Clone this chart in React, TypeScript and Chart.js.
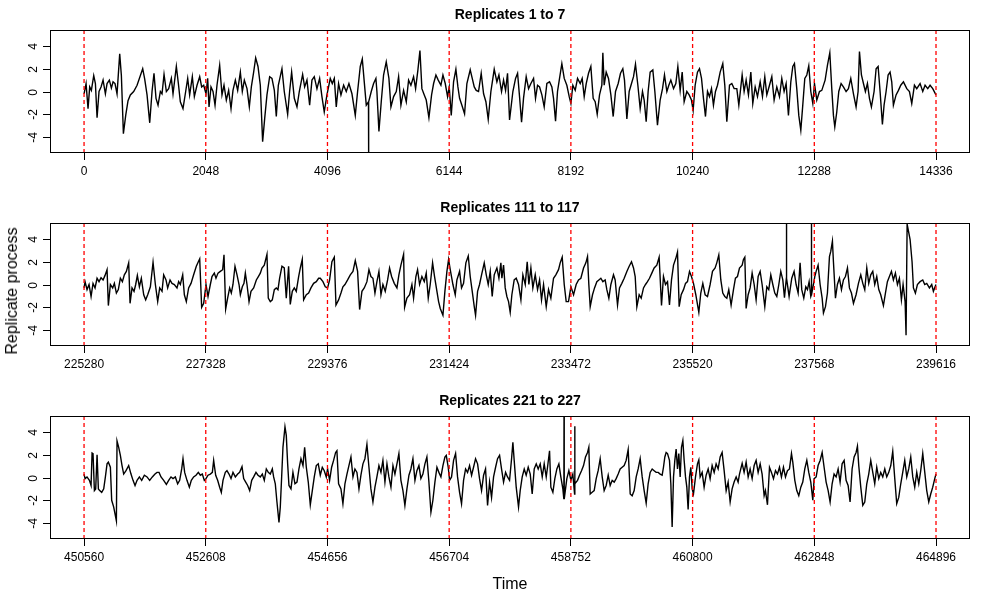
import React, { useEffect, useRef } from "react";
import { Chart, registerables } from "chart.js";

Chart.register(...registerables);

const FONT = '"Liberation Sans", Arial, Helvetica, sans-serif';

// ---- chart values ----
const panelTitles = ["Replicates 1 to 7", "Replicates 111 to 117", "Replicates 221 to 227"];
const panelStarts = [0, 225280, 450560];
const seriesLength = 14336;
const xExpand = 573;
const xTicks1 = [0, 2048, 4096, 6144, 8192, 10240, 12288, 14336];
const xTicks2 = [225280, 227328, 229376, 231424, 233472, 235520, 237568, 239616];
const xTicks3 = [450560, 452608, 454656, 456704, 458752, 460800, 462848, 464896];
const yTicks = [-4, -2, 0, 2, 4];
const yRange = [-5.4, 5.4];

// [time offset within panel, replicate process value]
const replicates1to7: [number, number][] = [
  [0,-0.2],[34,0.7],[67,-1.5],[95,0.4],[123,0.1],[163,1.4],[191,0.7],[219,-2.3],[252,0],[286,0.4],[320,1.0],[359,-0.2],[387,0.7],[426,1.0],[460,0.3],[488,0.85],[521,0.7],[555,-0.2],[600,3.3],[628,1.4],[662,-3.7],[701,-2.1],[740,-0.8],[779,-0.3],[835,0],[892,0.55],[948,1.4],[987,2.0],[1020,1.1],[1060,-0.3],[1105,-2.75],[1144,0],[1177,1.6],[1211,-0.6],[1245,-1.2],[1284,0],[1312,-0.2],[1346,1.5],[1385,0],[1424,0.25],[1469,1.15],[1497,-0.2],[1553,2.2],[1587,0.7],[1620,-0.9],[1665,-1.5],[1710,0],[1744,1.15],[1777,-0.3],[1822,1.3],[1856,-0.45],[1901,0.55],[1946,1.3],[1979,0.4],[2013,0.55],[2052,-0.2],[2080,1.15],[2103,-1.35],[2136,0.4],[2170,0],[2204,-1.2],[2237,0.55],[2282,2.3],[2321,-0.3],[2355,0.55],[2394,-0.75],[2433,0.1],[2473,-1.5],[2506,0.1],[2546,1.0],[2585,0.1],[2630,1.7],[2663,0],[2697,1.0],[2742,0.25],[2781,-1.35],[2815,0.4],[2854,1.7],[2888,2.95],[2927,2.2],[2966,0.55],[3005,-4.4],[3039,-2.4],[3078,-0.3],[3123,1.3],[3162,1.15],[3202,0.1],[3235,-2.2],[3269,0.55],
  [3330,2.0],[3369,0],[3426,-2.0],[3459,0],[3493,1.7],[3538,-0.6],[3583,-1.35],[3622,0],[3678,1.5],[3712,0.4],[3751,1.0],[3796,-1.2],[3835,1.0],[3874,1.3],[3919,0.25],[3964,1.15],[4003,-0.45],[4042,-1.8],[4087,-0.3],[4143,1.15],[4177,0.7],[4211,1.15],[4244,-1.35],[4283,0.7],[4323,-0.3],[4368,0.55],[4412,0],[4457,0.7],[4508,-0.2],[4564,-2.1],[4603,0],[4648,2.2],[4682,2.85],[4715,0.85],[4749,-1.2],[4786,-0.9],[4788,-5.6],[4790,-0.9],[4833,0],[4872,0.7],[4911,1.15],[4928,0],[4962,-3.5],[5001,-0.9],[5040,1.45],[5085,2.6],[5130,1.15],[5164,-1.35],[5209,-0.45],[5254,0],[5293,1.3],[5332,-1.2],[5377,0.1],[5422,-0.9],[5461,1.0],[5500,0.55],[5545,1.3],[5579,0.25],[5618,1.9],[5652,3.6],[5685,0.25],[5725,-0.3],[5758,-0.75],[5803,-2.3],[5848,-0.3],[5882,0.7],[5921,1.45],[5960,1.0],[6005,0.55],[6039,1.45],[6078,0.7],[6117,-0.45],[6145,0.4],[6179,-2.1],[6218,0.85],[6257,1.95],[6291,0.4],[6319,-0.6],[6358,-1.2],[6403,-1.95],[6442,0.7],[6498,1.9],[6532,1.15],[6566,0.4],[6599,0.1],[6638,0],[6683,1.6],[6723,-0.2],[6762,-0.9],[6801,-2.45],[6846,0],[6902,1.95],[6947,0.85],[6981,1.45],[7025,0],[7059,1.0],[7093,0.1],[7126,1.6],[7160,-2.5],
  [7216,0],[7261,1.15],[7295,1.6],[7328,-0.45],[7362,-2.7],[7395,-0.6],[7440,1.3],[7480,0.25],[7519,0.7],[7564,1.15],[7597,-0.6],[7631,0.55],[7665,0.4],[7704,-0.3],[7743,-1.35],[7788,0.7],[7833,0.85],[7872,0.4],[7900,-0.6],[7934,-2.6],[7967,0],[8001,1.15],[8040,2.45],[8080,1.15],[8124,0.55],[8164,-0.45],[8192,-1.05],[8225,0.55],[8265,0.1],[8304,1.15],[8349,0.7],[8382,1.15],[8416,-0.45],[8450,0.7],[8489,1.6],[8528,2.2],[8567,-0.6],[8601,-0.9],[8635,-2.0],[8674,-0.3],[8713,0.55],[8730,3.4],[8752,0.55],[8786,1.7],[8825,1.15],[8865,-0.3],[8904,-2.2],[8943,0],[8988,0.7],[9027,1.6],[9066,2.0],[9094,1.0],[9134,-2.4],[9173,0],[9212,0.7],[9246,1.3],[9279,2.4],[9319,0.55],[9358,-1.5],[9397,0],[9425,-0.75],[9459,-2.65],[9492,0],[9526,1.7],[9571,1.9],[9605,0],[9649,-2.95],[9694,-0.75],[9734,0.25],[9767,1.45],[9807,0],[9840,0.55],[9874,1.0],[9919,0.25],[9958,0.7],[9992,2.2],[10031,0.1],[10065,1.7],[10098,-0.9],[10143,0],[10182,-0.3],[10221,-0.75],[10249,-1.65],[10283,0.55],[10322,1.7],[10356,2.0],[10390,1.15],[10423,-0.6],[10457,-2.2],[10491,0],[10524,-0.45],[10558,0.25],[10591,-1.2],[10625,0],[10659,0.55],[10704,1.7],[10748,2.45],[10782,0.55],[10816,-2.65],[10861,0.55],[10900,0.7],[10939,0.25],[10984,0.25],[11018,-1.2],
  [11074,1.45],[11107,0],[11141,1.0],[11180,-0.3],[11220,1.7],[11253,-1.05],[11293,0.4],[11332,-0.45],[11377,0.85],[11416,-0.45],[11455,1.3],[11489,-0.3],[11534,0.55],[11573,1.3],[11612,-0.75],[11657,0.4],[11702,-0.45],[11741,1.15],[11780,0],[11814,0.7],[11853,-2.1],[11893,0.85],[11926,2.2],[11954,2.45],[11993,0.25],[12027,-2.1],[12061,-3.4],[12094,-1.2],[12128,1.15],[12162,1.45],[12195,2.25],[12229,0],[12263,-1.05],[12291,0.7],[12330,-0.75],[12375,0],[12414,0.1],[12470,1.0],[12509,2.3],[12549,3.4],[12582,0.25],[12610,-2.1],[12633,-3.1],[12666,-1.8],[12700,0],[12739,0.7],[12778,0.4],[12823,0],[12862,0.25],[12902,1.15],[12947,-0.2],[12991,-1.35],[13025,0],[13048,3.5],[13081,1.45],[13115,0.7],[13148,0],[13182,0.7],[13216,-0.6],[13249,-1.35],[13294,0],[13328,2.0],[13362,2.2],[13395,0],[13434,-2.9],[13462,-1.2],[13496,0],[13530,1.45],[13563,1.7],[13591,0.85],[13619,-1.2],[13664,-0.3],[13704,0.1],[13743,0.55],[13788,0.85],[13844,0.25],[13889,0],[13928,-1.05],[13973,0.55],[14012,0.25],[14068,0.7],[14113,0],[14152,0.55],[14197,0.25],[14236,0.55],[14281,0.25],[14335,-0.3],
];

const replicates111to117: [number, number][] = [
  [0,-0.3],[17,0.25],[50,-0.45],[84,0],[118,-1.05],[151,0.1],[185,-0.3],[219,0.55],[252,0.25],[286,0.6],[320,0.4],[353,0.8],[387,1.3],[409,-1.85],[443,0],[482,-0.3],[510,0.1],[544,-0.75],[577,-0.45],[611,0.55],[645,0.25],[678,0.85],[712,1.15],[751,1.9],[774,-1.65],[807,-0.3],[841,-0.6],[869,0],[897,0.8],[931,-0.2],[964,0.55],[1004,-0.9],[1037,-1.35],[1071,-0.9],[1116,-0.2],[1161,1.95],[1200,0],[1239,-1.5],[1273,-0.3],[1312,-0.6],[1340,0.85],[1379,0.4],[1407,-0.3],[1447,0.4],[1480,0.1],[1519,0],[1564,-0.3],[1592,0.25],[1620,0],[1660,0.85],[1688,-0.9],[1721,-1.5],[1760,-0.3],[1800,0.1],[1844,0.85],[1889,1.6],[1923,2.0],[1946,2.25],[1979,-2.0],[2013,-1.65],[2052,0],[2086,-1.05],[2125,0],[2153,0.7],[2192,1.0],[2220,0.55],[2254,1.0],[2293,1.15],[2332,1.3],[2355,2.6],[2383,-2.15],[2416,-1.2],[2450,-0.3],[2478,-0.75],[2506,0],[2540,1.6],[2574,0.85],[2608,0],[2630,-0.9],[2663,-0.2],[2691,0.1],[2714,1.0],[2742,0],[2776,-1.5],[2809,-0.6],[2854,-0.3],[2899,0.4],[2933,0.7],[2966,1.0],[2994,1.45],[3033,1.7],[3078,2.65],[3100,-1.2],[3134,-1.5],[3168,-1.35],[3202,-0.45],[3235,-0.3],[3263,-0.45],[3291,0.55],
  [3330,1.6],[3369,1.45],[3403,-1.2],[3442,1.6],[3470,-1.75],[3504,-0.6],[3538,-0.3],[3571,-0.6],[3611,0.7],[3639,1.45],[3672,2.2],[3695,-1.35],[3740,-0.9],[3779,-0.75],[3818,-0.3],[3863,0.1],[3908,0.25],[3947,0.55],[3975,0.55],[4020,0.25],[4059,-0.2],[4098,-0.3],[4132,0.4],[4171,2.0],[4211,2.4],[4239,-1.8],[4283,-1.35],[4323,-0.75],[4356,-0.2],[4390,0],[4435,0.4],[4480,0.85],[4525,1.15],[4564,2.1],[4603,1.15],[4637,-2.2],[4676,-0.6],[4715,-0.3],[4760,0.25],[4794,1.3],[4827,0.7],[4861,0.55],[4895,-0.75],[4928,0.25],[4962,1.15],[4996,-0.9],[5029,0],[5068,-0.6],[5108,0.4],[5141,1.45],[5175,0.7],[5220,0.1],[5265,-0.3],[5298,0.85],[5332,1.7],[5377,2.65],[5394,-2.0],[5433,-1.2],[5478,-0.9],[5517,0],[5545,-1.2],[5584,0.7],[5612,1.3],[5646,0],[5685,0.7],[5725,0.25],[5758,1.0],[5792,-1.2],[5825,0],[5865,1.9],[5898,0.7],[5938,-0.6],[5966,-1.5],[5994,-2.1],[6039,-2.7],[6072,-0.6],[6106,1.15],[6134,2.2],[6162,1.3],[6207,0],[6246,-0.9],[6274,0.4],[6319,1.15],[6352,-0.3],[6386,0.1],[6425,1.9],[6465,2.5],[6498,0.7],[6532,-0.6],[6566,-1.95],[6588,-2.7],[6622,-0.6],[6655,0],[6689,0.85],[6734,1.9],[6768,0.85],[6801,0],[6835,1.15],[6868,-1.05],[6902,0.85],[6947,1.45],[6981,0.55],[7014,1.9],[7031,0.55],[7059,1.7],[7087,-0.3],[7115,-1.05],[7143,-1.5],[7171,-2.45],
  [7199,-0.9],[7238,0.4],[7272,0.55],[7311,0],[7351,-1.35],[7384,0.85],[7424,0],[7457,2.0],[7485,0],[7519,1.45],[7552,-0.3],[7592,0.85],[7631,-0.45],[7665,0.4],[7698,-1.35],[7732,0],[7777,-1.95],[7816,-0.45],[7855,-1.2],[7900,0.55],[7939,0.85],[7984,1.3],[8012,1.9],[8046,2.4],[8080,0],[8113,-1.5],[8152,-1.5],[8192,-0.2],[8237,-0.9],[8281,0],[8321,0.4],[8360,0.55],[8405,1.45],[8444,1.9],[8472,2.45],[8494,0],[8517,-1.95],[8556,-0.9],[8590,-0.3],[8629,0.25],[8663,0.4],[8696,0.55],[8730,0.25],[8769,0.4],[8797,-0.45],[8831,-1.2],[8865,0],[8909,0.85],[8937,0.4],[8977,-1.8],[9010,-0.3],[9049,0.1],[9089,0.55],[9134,1.15],[9173,1.6],[9212,2.0],[9246,1.45],[9274,0.7],[9302,-1.95],[9341,-0.9],[9375,-1.2],[9414,-0.3],[9448,0],[9481,0.25],[9515,0.55],[9554,1.0],[9593,1.45],[9638,1.7],[9677,2.4],[9717,-1.85],[9750,0.7],[9784,0],[9818,0.25],[9851,-1.8],[9885,0.4],[9919,1.7],[9958,2.3],[9986,2.85],[10014,-1.95],[10048,-0.9],[10087,-0.45],[10121,0.1],[10154,0.25],[10188,1.15],[10221,0.7],[10255,0.1],[10294,-0.9],[10345,-2.45],[10378,-0.75],[10412,0.1],[10451,-0.9],[10491,-1.05],[10535,0],[10575,1.15],[10619,1.45],[10647,1.9],[10681,2.6],[10715,0.4],[10748,-0.75],[10782,-1.05],[10816,-1.2],[10849,-0.45],[10888,-1.8],[10928,-0.45],[10961,0.55],[10995,0.7],[11029,1.45],
  [11074,1.7],[11096,2.2],[11119,2.4],[11141,-2.1],[11175,-0.9],[11208,-0.3],[11242,1.0],[11276,0],[11309,-1.35],[11343,0.7],[11377,1.15],[11410,0],[11455,-1.95],[11489,-0.2],[11522,-0.45],[11556,0.85],[11590,0],[11623,-0.75],[11657,-1.05],[11691,0],[11724,1.15],[11758,0.4],[11786,-1.15],[11818,0.55],[11820,6.5],[11822,0.55],[11864,-1.05],[11909,0.55],[11948,1.15],[11982,0],[12016,-0.75],[12049,1.9],[12077,-0.45],[12111,-1.2],[12145,-0.2],[12173,-0.45],[12201,0.25],[12229,-1.05],[12238,-0.9],[12240,6.5],[12242,-0.9],[12274,0],[12296,0.7],[12319,1.15],[12352,1.7],[12386,0],[12420,-1.2],[12442,-2.5],[12476,-1.95],[12509,-0.75],[12543,2.45],[12565,2.9],[12593,3.8],[12610,2.0],[12644,-1.2],[12677,0],[12711,0.55],[12745,-0.45],[12778,0.4],[12812,0.7],[12846,1.45],[12879,-0.3],[12913,-0.75],[12947,-1.65],[12991,-0.9],[13031,0.1],[13070,0.85],[13104,0.1],[13137,-0.45],[13171,1.45],[13204,0.1],[13238,0.85],[13272,1.15],[13305,0],[13339,0.7],[13373,-0.45],[13406,-0.9],[13451,-1.85],[13485,-0.75],[13518,0.25],[13552,0.7],[13586,1.15],[13619,0.4],[13653,1.0],[13687,0],[13720,0.55],[13754,-1.35],[13782,0],[13816,-1.5],[13832,-4.45],[13850,5.3],[13900,3.95],[13933,2.0],[13956,-0.3],[13989,-0.75],[14023,0],[14068,0.25],[14113,0.4],[14146,0],[14180,0.1],[14225,-0.3],[14264,0],[14292,-0.6],[14335,0],
];

const replicates221to227: [number, number][] = [
  [0,0.3],[17,-0.1],[50,0.05],[90,-0.25],[118,-0.7],[135,2.15],[151,2.1],[174,-1.15],[196,-1.0],[219,2.0],[241,-1.0],[263,-1.15],[297,-1.3],[331,-1.0],[359,0.05],[387,1.2],[409,1.35],[443,0.9],[465,-2.0],[499,-2.6],[544,-3.8],[555,3.2],[583,2.65],[611,1.95],[639,1.05],[667,0.3],[706,0.6],[751,1.05],[790,0.3],[824,-0.25],[858,-0.7],[892,-0.25],[931,0.05],[970,-0.25],[1015,0.2],[1060,0.05],[1104,-0.25],[1149,0.05],[1194,0.3],[1228,0.45],[1262,0.45],[1295,0.05],[1340,-0.25],[1385,-0.6],[1424,-0.25],[1463,0.05],[1497,-0.1],[1536,0.05],[1575,-0.55],[1609,-0.25],[1643,0.75],[1665,1.65],[1693,0.45],[1732,-0.25],[1772,-0.85],[1805,-0.25],[1844,0.05],[1884,0.2],[1923,0.45],[1957,0.2],[1990,0.3],[2024,-0.25],[2052,-0.1],[2086,0.2],[2125,0.3],[2159,0.45],[2181,1.5],[2215,0.2],[2248,-0.25],[2282,-0.85],[2310,-1.3],[2338,-0.25],[2377,0.45],[2405,0.6],[2439,0.3],[2473,-0.1],[2506,0.45],[2546,0.05],[2585,0.3],[2618,0.45],[2658,0.95],[2686,-0.1],[2720,-0.4],[2753,-0.7],[2787,-1.15],[2821,-0.25],[2854,0.05],[2893,0.45],[2927,0.2],[2966,0.05],[3000,0.3],[3033,-0.25],[3067,0.75],[3100,0.45],[3134,0.3],[3168,0.75],[3190,0.05],[3218,-0.55],[3246,-2.15],[3280,-3.95],[3302,-2.6],[3325,0.05],[3347,2.65],[3381,4.45],[3403,3.7],[3426,1.2],[3448,-0.7],[3482,-1.0],[3515,0.45],[3549,-0.55],[3583,-0.4],[3616,0.75],[3650,1.65],[3684,1.05],[3712,2.65],[3740,0.9],[3773,-0.4],[3807,-2.4],[3841,-1.15],[3874,0.05],[3908,1.05],[3941,1.2],[3975,0.2],[4009,0.9],[4042,0.6],[4076,0.05],[4098,0.75],[4132,-0.25],[4166,0.9],[4199,1.5],[4233,2.2],[4255,2.35],[4283,-0.55],[4323,-1.0],[4356,-2.3],[4390,-0.55],[4424,0.3],[4457,1.05],[4491,1.8],[4525,0.05],[4558,0.75],[4592,0.45],[4626,-1.0],[4659,0.2],[4693,1.2],[4726,1.65],[4760,2.9],[4794,0.9],[4827,-1.0],[4861,-2.15],[4895,-0.85],[4928,0.05],[4962,1.05],[4996,0.45],[5029,1.5],[5063,-0.4],[5097,1.2],[5130,0.05],[5164,-0.85],[5198,1.05],[5231,0.3],[5265,1.2],[5298,2.1],[5332,-0.25],[5366,-1.15],[5399,-2.45],[5433,-1.0],[5467,0.2],[5500,0.75],[5534,1.65],[5568,-0.25],[5601,0.6],[5635,1.05],[5668,-0.1],[5702,0.3],[5736,1.2],[5769,1.8],[5803,-0.4],[5837,-3.05],[5870,-2.0],[5904,-0.4],[5938,0.9],[5971,0.45],[6005,0.05],[6039,1.05],[6072,1.8],[6095,1.95],[6128,0.9],[6151,-0.25],[6184,0.05],[6218,1.5],[6252,2.1],[6285,0.05],[6319,-1.3],[6352,-2.3],[6386,-0.25],[6420,0.75],[6453,0.45],[6487,1.05],[6521,0.2],[6554,0.9],[6588,1.65],[6622,1.2],[6655,-0.1],[6689,-1.15],[6723,0.2],[6756,0.75],[6790,-2.45],[6824,-0.4],[6857,-1.75],[6891,0.05],[6925,0.9],[6958,1.65],[6992,1.95],[7025,0.75],[7059,-0.4],[7093,0.45],[7126,0.05],[7160,-0.25],
  [7194,1.65],[7216,3.1],[7238,1.5],[7272,-0.85],[7311,-2.6],[7339,-1.15],[7373,0.05],[7407,0.75],[7440,0.2],[7474,0.9],[7508,0.3],[7541,-1.45],[7575,0.75],[7609,1.2],[7642,0.75],[7676,1.2],[7710,0.05],[7743,1.2],[7777,0.05],[7799,0.9],[7833,2.35],[7855,-0.85],[7889,-1.3],[7922,-0.1],[7956,0.75],[7990,1.2],[8023,0.05],[8057,-1.0],[8074,-1.9],[8077,6.5],[8080,-1.9],[8124,-0.1],[8158,0.6],[8192,-0.25],[8225,0.3],[8254,-1.45],[8257,4.5],[8260,-0.55],[8304,-0.25],[8337,0.2],[8371,0.6],[8405,1.05],[8438,1.8],[8472,2.2],[8494,2.65],[8517,-1.45],[8550,-1.3],[8584,-1.15],[8618,-0.1],[8651,0.6],[8685,1.65],[8719,0.05],[8752,-1.15],[8786,-0.7],[8820,0.2],[8853,-0.7],[8887,-0.25],[8921,-0.4],[8954,-0.1],[8988,0.3],[9021,0.75],[9055,0.9],[9089,1.05],[9122,1.5],[9156,2.45],[9190,-1.45],[9223,-1.6],[9257,-1.15],[9291,0.05],[9324,0.75],[9358,1.65],[9392,0.05],[9425,-1.15],[9459,-2.25],[9492,-0.55],[9526,0.45],[9560,0.75],[9593,0.6],[9627,0.45],[9661,0.45],[9694,0.3],[9728,0.2],[9750,0.9],[9773,1.8],[9795,2.2],[9818,2.1],[9851,1.5],[9874,-0.55],[9896,-4.35],[9919,0.05],[9941,1.5],[9963,2.5],[9986,0.75],[10008,2.1],[10031,0.05],[10053,2.65],[10076,3.25],[10098,1.5],[10121,0.05],[10143,-0.85],[10165,-2.8],[10188,0.05],[10210,0.9],[10233,-1.0],[10255,-1.45],[10289,0.05],[10322,1.2],[10345,1.55],[10367,0.05],[10401,0.45],[10434,-0.85],[10468,0.2],[10502,0.75],[10535,-0.1],[10569,1.05],[10603,0.45],[10636,1.2],[10670,0.75],[10704,1.8],[10737,2.2],[10771,0.6],[10805,-1.15],[10838,-0.4],[10872,-2.15],[10905,-1.0],[10939,-0.4],[10973,0.05],[11006,-0.4],[11029,0.3],
  [11074,1.25],[11107,0.45],[11141,1.35],[11175,0.05],[11208,0.75],[11242,-0.1],[11276,1.05],[11309,1.5],[11343,0.45],[11377,1.2],[11410,0.3],[11444,-1.6],[11466,-1.15],[11500,-2.4],[11534,0.9],[11567,0.45],[11601,-0.1],[11635,0.6],[11668,0.3],[11702,0.9],[11735,0.05],[11769,0.9],[11803,0.05],[11836,0.6],[11870,0.75],[11904,2.1],[11926,1.35],[11960,-0.25],[11993,-1.15],[12027,-1.6],[12061,-0.85],[12094,-0.4],[12128,0.75],[12162,1.5],[12195,0.45],[12229,-0.4],[12263,-2.0],[12285,-0.1],[12319,0.05],[12352,1.05],[12386,1.5],[12420,2.2],[12453,0.9],[12487,-0.4],[12521,-1.15],[12554,-2.15],[12588,-0.55],[12621,0.3],[12655,0.05],[12689,0.75],[12722,-0.4],[12756,1.2],[12790,1.5],[12823,-0.25],[12857,-0.7],[12890,-2.15],[12924,0.75],[12958,1.8],[12991,2.2],[13014,2.75],[13036,1.05],[13070,-0.85],[13104,-2.45],[13137,-2.15],[13171,-0.55],[13204,0.3],[13238,1.5],[13272,0.45],[13305,-0.55],[13339,0.9],[13373,-0.1],[13406,0.45],[13440,0.05],[13474,0.75],[13507,0.05],[13541,0.45],[13575,1.05],[13608,2.3],[13642,-0.1],[13675,-2.3],[13709,-1.75],[13743,-0.55],[13776,0.45],[13810,1.5],[13844,0.05],[13877,0.75],[13911,1.8],[13945,0.05],[13978,-0.85],[14012,0.45],[14046,-0.55],[14079,0.6],[14113,2.1],[14147,0.45],[14180,-1.15],[14214,-2.15],[14247,-1.45],[14281,-0.85],[14315,-0.1],[14335,0.3],
];

const panelSeries = [replicates1to7, replicates111to117, replicates221to227];
const panelTicks = [xTicks1, xTicks2, xTicks3];

// ---- layout ----
const PANEL_H = 193;

type PanelProps = { title: string; series: [number, number][]; start: number; ticks: number[]; top: number };

function Panel({ title, series, start, ticks, top }: PanelProps) {
  const ref = useRef<HTMLCanvasElement>(null);
  useEffect(() => {
    const canvas = ref.current;
    if (!canvas) return;
    const decor = {
      id: "decor",
      afterDatasetsDraw(chart: any) {
        const { ctx, chartArea: a, scales } = chart;
        const x = scales.x;
        const y = scales.y;
        // red dashed block boundaries
        ctx.save();
        ctx.beginPath();
        ctx.rect(a.left, a.top, a.right - a.left, a.bottom - a.top);
        ctx.clip();
        ctx.strokeStyle = "#ff0000";
        ctx.lineWidth = 1.3;
        ctx.setLineDash([4, 3]);
        for (const t of ticks) {
          const px = x.getPixelForValue(t);
          ctx.beginPath();
          ctx.moveTo(px, a.top);
          ctx.lineTo(px, a.bottom);
          ctx.stroke();
        }
        ctx.restore();
        // box
        ctx.save();
        ctx.strokeStyle = "#000";
        ctx.lineWidth = 1;
        ctx.strokeRect(a.left + 0.5, a.top + 0.5, a.right - a.left - 1, a.bottom - a.top - 1);
        // y ticks + rotated labels
        ctx.fillStyle = "#000";
        ctx.font = `12px ${FONT}`;
        for (const v of yTicks) {
          const py = Math.round(y.getPixelForValue(v)) + 0.5;
          ctx.beginPath();
          ctx.moveTo(a.left - 7, py);
          ctx.lineTo(a.left, py);
          ctx.stroke();
          ctx.save();
          ctx.translate(a.left - 16, py);
          ctx.rotate(-Math.PI / 2);
          ctx.textAlign = "center";
          ctx.textBaseline = "middle";
          ctx.fillText(String(v), 0, 0);
          ctx.restore();
        }
        // title
        ctx.font = `bold 14px ${FONT}`;
        ctx.textAlign = "center";
        ctx.textBaseline = "middle";
        ctx.fillText(title, (a.left + a.right) / 2, 15);
        ctx.restore();
      },
    };
    const chart = new Chart(canvas, {
      type: "line",
      data: {
        datasets: [
          {
            data: series.map(([t, v]) => ({ x: start + t, y: v })),
            borderColor: "#000",
            borderWidth: 1.4,
            pointRadius: 0,
            fill: false,
            tension: 0,
          },
        ],
      },
      options: {
        animation: false,
        responsive: false,
        devicePixelRatio: 1,
        events: [],
        layout: { padding: { left: 50, right: 30, top: 30, bottom: 0 }, autoPadding: false },
        plugins: { legend: { display: false }, tooltip: { enabled: false }, title: { display: false } },
        scales: {
          x: {
            type: "linear",
            min: start - xExpand,
            max: start + seriesLength - 1 + xExpand,
            afterBuildTicks: (s: any) => {
              s.ticks = ticks.map((v) => ({ value: v }));
            },
            ticks: {
              autoSkip: false,
              minRotation: 0,
              maxRotation: 0,
              color: "#000",
              font: { family: FONT, size: 12 },
              padding: 4,
              callback: (v: any) => String(v),
            },
            grid: { drawOnChartArea: false, drawTicks: true, tickLength: 7, color: "#000", lineWidth: 1 },
            border: { display: false },
            afterFit: (s: any) => {
              s.height = 40;
            },
          },
          y: { display: false, min: yRange[0], max: yRange[1] },
        },
      },
      plugins: [decor],
    } as any);
    return () => chart.destroy();
  }, [title, series, start, ticks]);
  return (
    <canvas
      ref={ref}
      width={1000}
      height={PANEL_H}
      style={{ position: "absolute", left: 0, top, width: 1000, height: PANEL_H, display: "block" }}
    />
  );
}

export default function App() {
  return (
    <div style={{ position: "absolute", left: 0, top: 0, width: 1000, height: 600, background: "#fff", overflow: "hidden", fontFamily: FONT }}>
      {panelTitles.map((title, i) => (
        <Panel key={title} title={title} series={panelSeries[i]} start={panelStarts[i]} ticks={panelTicks[i]} top={i * PANEL_H} />
      ))}
      <div style={{ position: "absolute", left: 510, top: 584, transform: "translate(-50%, -50%)", fontSize: 16, color: "#000", whiteSpace: "nowrap" }}>
        Time
      </div>
      <div style={{ position: "absolute", left: 12, top: 291, transform: "translate(-50%, -50%) rotate(-90deg)", fontSize: 16, color: "#000", whiteSpace: "nowrap" }}>
        Replicate process
      </div>
    </div>
  );
}
